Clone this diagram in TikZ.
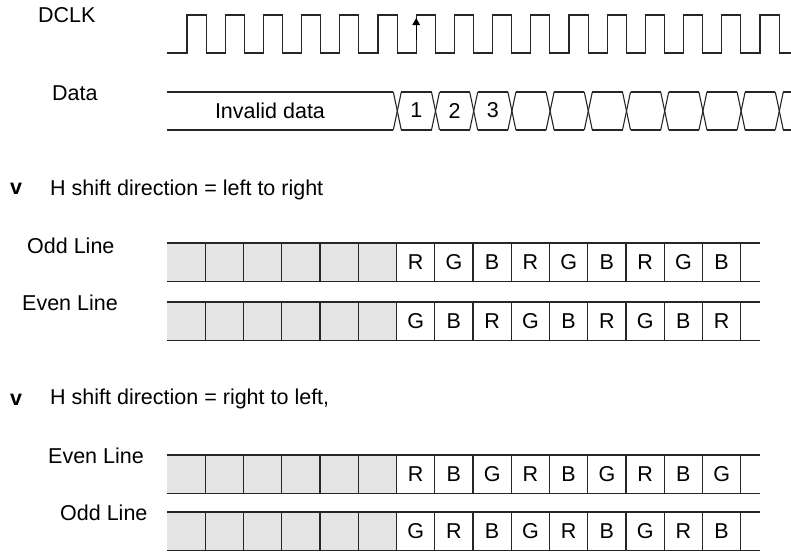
\documentclass[tikz,border=0pt]{standalone}
\usepackage{fontspec}
\setmainfont{Liberation Sans}
\usetikzlibrary{arrows.meta}
\tikzset{
  lbl/.style={font=\fontsize{21.5}{25}\selectfont, inner sep=0pt, text=black},
  bul/.style={font=\fontsize{21.5}{25}\selectfont\bfseries, inner sep=0pt, text=black},
  sig/.style={draw=black!85, line width=1.1pt, line join=miter},
  cellfill/.style={fill=gray!20},
}
\newcommand{\pixrow}[3]{%
  \fill[cellfill] (167,#1) rectangle (167+229.5,#1+38.5);
  \draw[sig] (167,#1) -- (760,#1);
  \draw[sig] (167,#1+38.5) -- (760,#1+38.5);
  \foreach \k in {1,...,15} \draw[sig] (167+38.25*\k,#1) -- (167+38.25*\k,#1+38.5);
  \foreach \c [count=\i] in {#3} \node[lbl] (#2\i) at (396.5+38.25*\i-19.125,#1+19.25) {\c};
}
\begin{document}
\begin{tikzpicture}[x=1pt,y=-1pt]
\useasboundingbox (0,0) rectangle (791,552);
% labels
\node[lbl,anchor=base west] (dclk) at (38,22) {DCLK};
\node[lbl,anchor=base west] (data) at (52,100) {Data};
% clock
\draw[sig] (167,53) -- (187,53)
  \foreach \k in {0,...,14} { -- ++(0,-38) -- ++(19.1,0) -- ++(0,38) -- ++(19.1,0) }
  -- ++(0,-38) -- ++(19.1,0) -- ++(0,38) -- (791,53);
\coordinate (edgebot) at (416.2,40);
\coordinate (edgetop) at (416.2,18);
\draw[line width=1.1pt,-{Triangle[length=7pt,width=7.5pt]}] (edgebot) -- (edgetop);
% data bus
\draw[sig] (167,92) -- (393.3,92);
\draw[sig] (167,130) -- (393.3,130);
\foreach \j in {0,...,10} {
  \pgfmathsetmacro{\cc}{397.3+38.2*\j}
  \draw[sig] (\cc-4,92) -- (\cc+4,130);
  \draw[sig] (\cc-4,130) -- (\cc+4,92);
}
\foreach \j in {0,...,9} {
  \pgfmathsetmacro{\cc}{397.3+38.2*\j}
  \draw[sig] (\cc+4,92) -- (\cc+34.2,92);
  \draw[sig] (\cc+4,130) -- (\cc+34.2,130);
}
\draw[sig] (783.3,92) -- (791,92);
\draw[sig] (783.3,130) -- (791,130);
\node[lbl] (inv) at (270,110.5) {Invalid data};
\node[lbl] (d1) at (416.4,110.5) {1};
\node[lbl] (d2) at (454.6,110.5) {2};
\node[lbl] (d3) at (492.8,110.5) {3};
% section 1
\node[bul,anchor=base] (b1) at (16,194) {v};
\node[lbl,anchor=base west] (h1) at (50,195) {H shift direction = left to right};
\node[lbl,anchor=base west] (odd1) at (27,253) {Odd Line};
\node[lbl,anchor=base west] (even1) at (22,310) {Even Line};
\pixrow{243}{ra}{R,G,B,R,G,B,R,G,B}
\pixrow{302}{rb}{G,B,R,G,B,R,G,B,R}
% section 2
\node[bul,anchor=base] (b2) at (16,405) {v};
\node[lbl,anchor=base west] (h2) at (50,404) {H shift direction = right to left,};
\node[lbl,anchor=base west] (even2) at (48,463) {Even Line};
\node[lbl,anchor=base west] (odd2) at (60,520) {Odd Line};
\pixrow{455}{rc}{R,B,G,R,B,G,R,B,G}
\pixrow{512}{rd}{G,R,B,G,R,B,G,R,B}
\end{tikzpicture}
\end{document}
